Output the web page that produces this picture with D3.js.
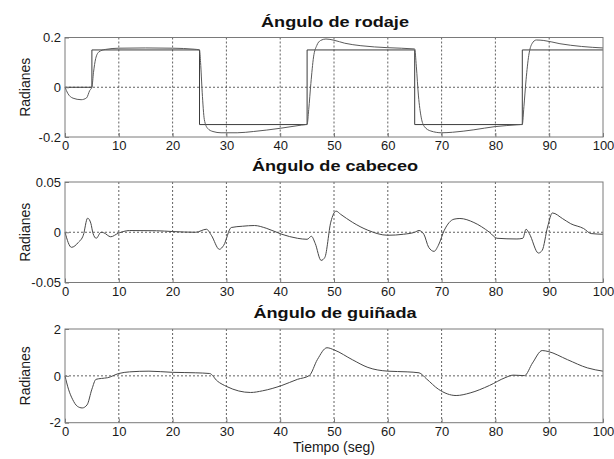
<!DOCTYPE html>
<html>
<head>
<meta charset="utf-8">
<script src="https://cdn.jsdelivr.net/npm/d3@7"></script>
<style>
  body { margin: 0; background: #fff; }
  svg { display: block; }
</style>
</head>
<body>
<svg id="chart" width="614" height="459"></svg>
<script>
// Shared time axis (seconds)
const timeTicks = [0, 10, 20, 30, 40, 50, 60, 70, 80, 90, 100];
const timeTickLabels = ["0", "10", "20", "30", "40", "50", "60", "70", "80", "90", "100"];

// Roll: commanded step sequence
const rollRefT = [0, 5, 25, 45, 65, 85, 100];
const rollRefV = [0, 0.15, -0.15, 0.15, -0.15, 0.15, 0.15];

// Roll: simulated response
const rollT = [0, 0.5, 1.5, 3, 4, 4.6, 5, 5.3, 5.7, 6.3, 7.5, 10, 15, 20, 24, 25,
  25.2, 25.5, 25.9, 26.5, 27.5, 29, 32, 35, 40, 44, 45,
  45.3, 45.7, 46.2, 46.8, 47.5, 48.5, 50, 52, 55, 60, 65,
  65.3, 65.7, 66.2, 66.8, 68, 70, 72, 76, 80, 84, 85,
  85.3, 85.7, 86.2, 86.8, 87.6, 89, 92, 96, 100];
const rollV = [0, -0.024, -0.044, -0.05, -0.043, -0.013, 0, 0.06, 0.115, 0.142, 0.152, 0.157, 0.158, 0.157, 0.153, 0.15,
  0.1, -0.02, -0.13, -0.165, -0.178, -0.183, -0.183, -0.178, -0.165, -0.152, -0.149,
  -0.09, 0.015, 0.122, 0.168, 0.188, 0.194, 0.189, 0.177, 0.167, 0.159, 0.154,
  0.085, -0.035, -0.12, -0.158, -0.176, -0.183, -0.181, -0.171, -0.158, -0.151, -0.149,
  -0.078, 0.03, 0.128, 0.175, 0.19, 0.188, 0.175, 0.164, 0.158];
const rollTicks = [-0.2, 0, 0.2];
const rollTickLabels = ["-0.2", "0", "0.2"];

// Pitch response
const pitchT = [0, 1.2, 2.5, 3.4, 4.2, 4.8, 5.2, 5.8, 6.7, 7.2, 8.5, 9.9, 12, 17, 20, 24.3,
  26.3, 27.2, 28.7, 29.5, 30.9, 33, 35.2, 37.4, 40.3, 43.2, 45, 45.8, 46.5, 47.6, 48.3,
  49.4, 50.4, 51.2, 53.4, 56.3, 60, 62.9, 65, 65.8, 66.7, 67.6, 68.6, 69.4, 70.5,
  72.3, 73.4, 76, 78.9, 80.3, 84, 85.1, 85.7, 86.3, 88, 88.7, 89.7, 90.6, 92.5,
  94, 96.4, 97.8, 100];
const pitchV = [0, -0.015, -0.01, -0.003, 0.014, 0.009, -0.001, -0.006, 0, -0.0005, -0.0045, -0.001, 0.0017, 0.0015, 0.0007, 0,
  0.003, -0.003, -0.017, -0.013, 0.0047, 0.006, 0.0067, 0.004, -0.002, -0.006, -0.007, -0.004, -0.011, -0.028, -0.025,
  0.01, 0.021, 0.018, 0.01, 0.002, -0.003, -0.002, 0, 0.0017, -0.002, -0.015, -0.019, -0.013, 0.002,
  0.013, 0.0137, 0.0097, 0, -0.006, -0.0067, -0.006, 0.003, -0.0013, -0.0207, -0.018, 0.0053, 0.0192, 0.0135,
  0.0085, 0.0037, -0.0013, -0.002];
const pitchTicks = [-0.05, 0, 0.05];
const pitchTickLabels = ["-0.05", "0", "0.05"];

// Yaw response
const yawT = [0, 0.65, 1.4, 2.3, 3.2, 4.1, 5, 5.75, 6.8, 7.9, 10, 12, 15.6, 20, 24.3, 26.9,
  28.3, 30.1, 34.5, 36.7, 40.3, 43.2, 45.4, 46.9, 48.7, 50.1, 53.4, 56.3, 60, 63.6, 65.8,
  67.2, 69.4, 72.7, 75.3, 78.9, 81.8, 83.3, 85.4, 86.9, 88.7, 89.8, 93.4, 97.1, 100];
const yawV = [0, -0.57, -1.0, -1.3, -1.37, -1.24, -0.57, -0.15, -0.11, -0.08, 0.1, 0.17, 0.2, 0.15, 0.13, 0.1,
  -0.22, -0.46, -0.71, -0.64, -0.41, -0.15, 0.01, 0.69, 1.2, 1.1, 0.69, 0.36, 0.2, 0.17, 0.13,
  -0.13, -0.57, -0.84, -0.73, -0.41, -0.08, 0.03, 0.01, 0.55, 1.08, 1.04, 0.69, 0.34, 0.2];
const yawTicks = [-2, 0, 2];
const yawTickLabels = ["-2", "0", "2"];

const titles = ["Ángulo de rodaje", "Ángulo de cabeceo", "Ángulo de guiñada"];
const yLabel = "Radianes";
const xLabel = "Tiempo (seg)";

// ---- layout ----
const svg = d3.select("#chart");
const FONT = "'Liberation Sans', Arial, Helvetica, sans-serif";
const left = 65, right = 603;
const frames = [
  { top: 37.5, bottom: 137 },
  { top: 182, bottom: 282.5 },
  { top: 329, bottom: 422.7 }
];

const panels = [
  { title: titles[0], ticks: rollTicks, labels: rollTickLabels,
    series: [
      { t: rollRefT, v: rollRefV, curve: d3.curveStepAfter, color: "#3c3c3c" },
      { t: rollT, v: rollV, curve: d3.curveMonotoneX, color: "#5a5a5a" }
    ] },
  { title: titles[1], ticks: pitchTicks, labels: pitchTickLabels,
    series: [{ t: pitchT, v: pitchV, curve: d3.curveMonotoneX, color: "#474747" }] },
  { title: titles[2], ticks: yawTicks, labels: yawTickLabels,
    series: [{ t: yawT, v: yawV, curve: d3.curveMonotoneX, color: "#474747" }] }
];

const x = d3.scaleLinear().domain([0, 100]).range([left, right]);

panels.forEach((p, i) => {
  const f = frames[i];
  const y = d3.scaleLinear()
    .domain([p.ticks[0], p.ticks[p.ticks.length - 1]])
    .range([f.bottom, f.top]);
  const g = svg.append("g");

  // dotted grid
  g.selectAll("line.gx").data(timeTicks.slice(1, -1)).join("line")
    .attr("x1", d => x(d)).attr("x2", d => x(d))
    .attr("y1", f.top).attr("y2", f.bottom)
    .attr("stroke", "#3a3a3a").attr("stroke-width", 0.8)
    .attr("stroke-dasharray", "2,2");
  g.selectAll("line.gy").data(p.ticks.slice(1, -1)).join("line")
    .attr("x1", left).attr("x2", right)
    .attr("y1", d => y(d)).attr("y2", d => y(d))
    .attr("stroke", "#3a3a3a").attr("stroke-width", 0.8)
    .attr("stroke-dasharray", "2,2");

  // data lines
  p.series.forEach(s => {
    const pts = s.t.map((t, k) => [t, s.v[k]]);
    g.append("path")
      .attr("d", d3.line().x(d => x(d[0])).y(d => y(d[1])).curve(s.curve)(pts))
      .attr("fill", "none").attr("stroke", s.color).attr("stroke-width", 1);
  });

  // frame
  g.append("rect")
    .attr("x", left).attr("y", f.top)
    .attr("width", right - left).attr("height", f.bottom - f.top)
    .attr("fill", "none").attr("stroke", "#7a7a7a").attr("stroke-width", 1);

  // axes with inward ticks
  const ax = g.append("g").attr("transform", `translate(0,${f.bottom})`)
    .call(d3.axisBottom(x).tickValues(timeTicks)
      .tickFormat((d, k) => timeTickLabels[k])
      .tickSize(-4).tickPadding(4));
  const ay = g.append("g").attr("transform", `translate(${left},0)`)
    .call(d3.axisLeft(y).tickValues(p.ticks)
      .tickFormat((d, k) => p.labels[k])
      .tickSize(-4).tickPadding(4));
  [ax, ay].forEach(a => {
    a.select(".domain").remove();
    a.selectAll(".tick line").attr("stroke", "#7a7a7a");
    a.selectAll("text").attr("fill", "#1a1a1a")
      .style("font-family", FONT).style("font-size", "13px");
  });

  // title
  g.append("text")
    .attr("transform", `translate(${(left + right) / 2 + 1},${f.top - 11}) scale(1.25,1)`)
    .attr("text-anchor", "middle")
    .style("font-family", FONT).style("font-size", "14.5px").style("font-weight", "bold")
    .attr("fill", "#111")
    .text(p.title);

  // y label
  g.append("text")
    .attr("transform", `translate(30,${(f.top + f.bottom) / 2}) rotate(-90)`)
    .attr("text-anchor", "middle")
    .style("font-family", FONT).style("font-size", "14px")
    .attr("fill", "#1a1a1a")
    .text(yLabel);
});

// x label
svg.append("text")
  .attr("x", (left + right) / 2).attr("y", frames[2].bottom + 29)
  .attr("text-anchor", "middle")
  .style("font-family", FONT).style("font-size", "14px")
  .attr("fill", "#1a1a1a")
  .text(xLabel);
</script>
</body>
</html>
